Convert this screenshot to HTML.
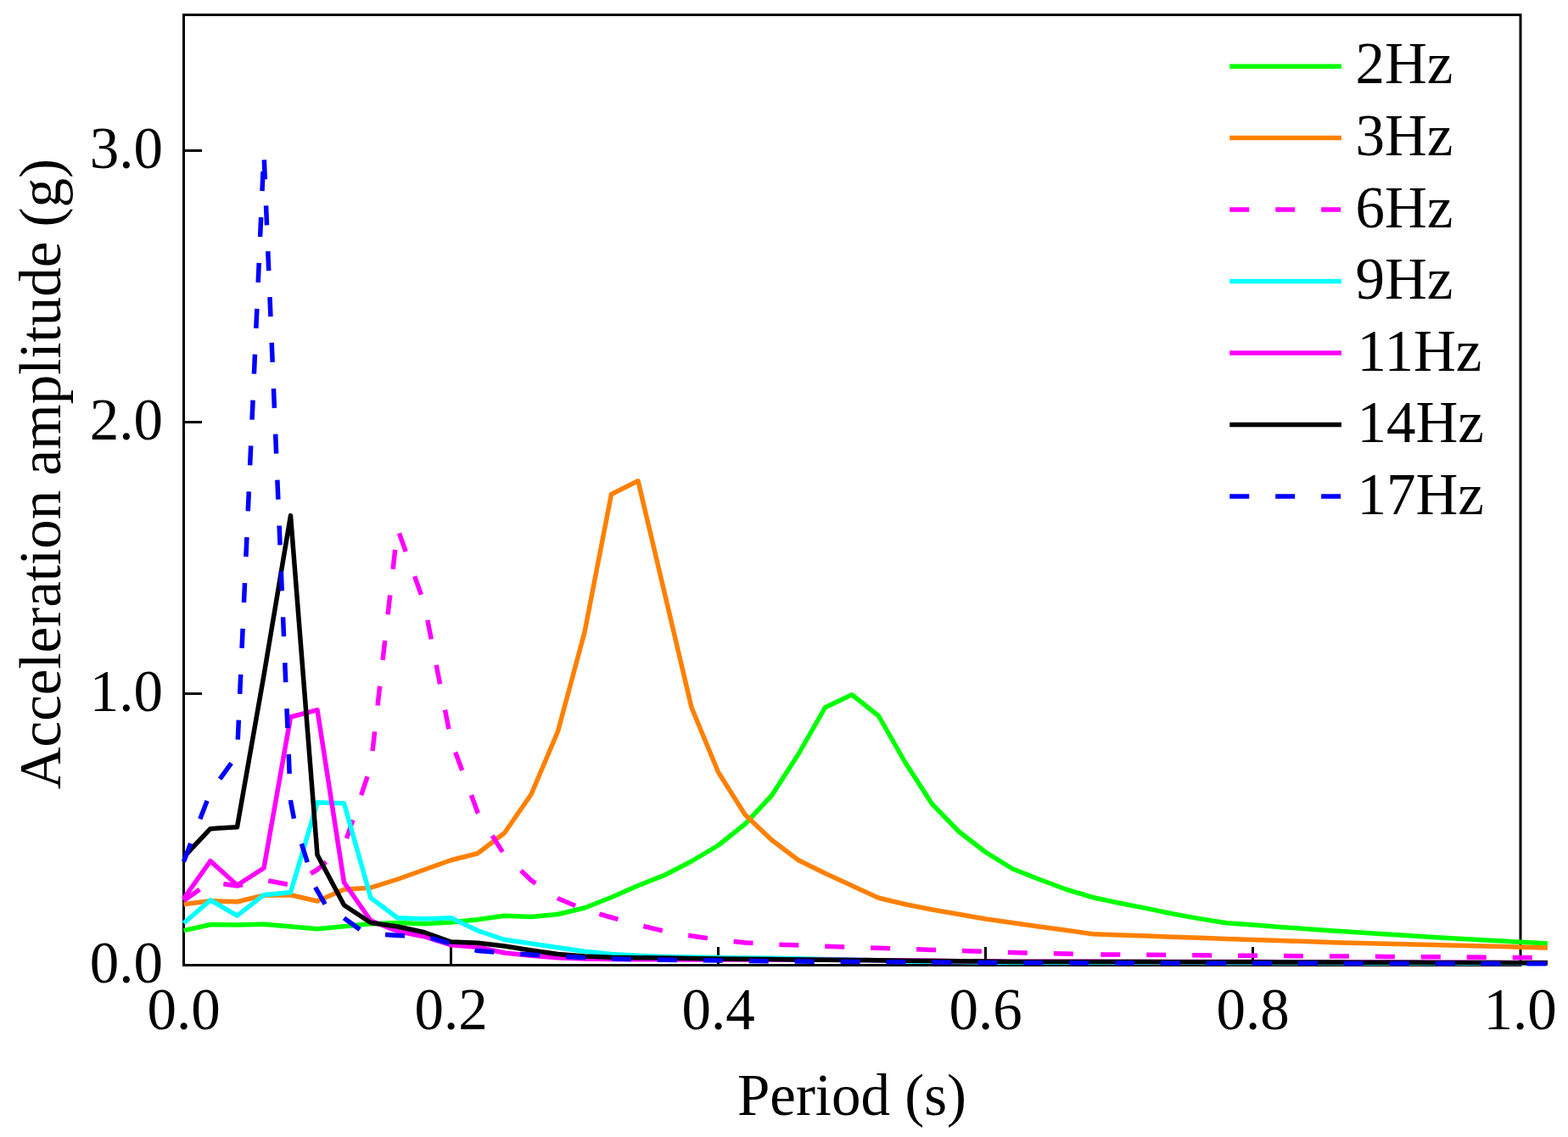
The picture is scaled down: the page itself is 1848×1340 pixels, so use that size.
<!DOCTYPE html>
<html lang="en">
<head>
<meta charset="utf-8">
<title>Acceleration amplitude vs Period</title>
<style>
html,body{margin:0;padding:0;background:#fff;}
body{width:1848px;height:1340px;overflow:hidden;}
svg{display:block;}
text{font-family:"Liberation Serif","Times New Roman",serif;font-size:69px;fill:#000;}
.ln{fill:none;stroke-linejoin:round;stroke-linecap:butt;}
</style>
</head>
<body>
<svg width="1848" height="1340" viewBox="0 0 1848 1340">
<rect x="0" y="0" width="1848" height="1340" fill="#ffffff"/>

<rect x="216.50" y="17.50" width="1575.50" height="1120.00" fill="none" stroke="#000" stroke-width="3"/>
<line x1="216.50" y1="817.50" x2="238.00" y2="817.50" stroke="#000" stroke-width="3"/>
<line x1="216.50" y1="497.50" x2="238.00" y2="497.50" stroke="#000" stroke-width="3"/>
<line x1="216.50" y1="177.50" x2="238.00" y2="177.50" stroke="#000" stroke-width="3"/>
<line x1="531.50" y1="1137.50" x2="531.50" y2="1116.00" stroke="#000" stroke-width="3"/>
<line x1="846.50" y1="1137.50" x2="846.50" y2="1116.00" stroke="#000" stroke-width="3"/>
<line x1="1161.50" y1="1137.50" x2="1161.50" y2="1116.00" stroke="#000" stroke-width="3"/>
<line x1="1476.50" y1="1137.50" x2="1476.50" y2="1116.00" stroke="#000" stroke-width="3"/>
<path class="ln" d="M216.50 1096.60 L248.00 1089.70 L279.50 1090.00 L311.00 1089.20 L342.50 1092.00 L374.00 1094.70 L405.50 1091.70 L437.00 1088.70 L468.50 1087.50 L500.00 1088.75 L531.50 1087.00 L563.00 1083.75 L594.50 1079.25 L626.00 1080.50 L657.50 1077.50 L689.00 1070.00 L720.50 1057.50 L752.00 1043.75 L783.50 1031.25 L815.00 1015.00 L846.50 996.25 L878.00 971.25 L909.50 937.50 L941.00 888.75 L972.50 833.75 L1004.00 818.75 L1035.50 843.75 L1067.00 898.75 L1098.50 947.50 L1130.00 980.00 L1161.50 1004.25 L1193.00 1023.75 L1224.50 1036.25 L1256.00 1048.00 L1287.50 1057.50 L1319.00 1064.25 L1350.50 1070.40 L1382.00 1077.00 L1413.50 1082.60 L1445.00 1087.70 L1476.50 1090.05 L1508.00 1092.40 L1539.50 1094.66 L1571.00 1096.92 L1580.45 1097.60 L1602.50 1099.00 L1634.00 1101.00 L1665.50 1103.00 L1697.00 1105.00 L1728.50 1106.75 L1760.00 1108.50 L1791.50 1110.25 L1823.90 1112.00" stroke="#00ff00" stroke-width="5.5"/>
<path class="ln" d="M216.50 1065.80 L248.00 1061.70 L279.50 1062.80 L311.00 1055.30 L342.50 1054.70 L374.00 1062.00 L405.50 1048.30 L437.00 1046.20 L468.50 1036.25 L500.00 1025.00 L531.50 1013.75 L563.00 1005.75 L594.50 981.75 L626.00 936.25 L657.50 862.00 L689.00 745.00 L720.50 582.50 L752.00 566.75 L783.50 700.00 L815.00 833.75 L846.50 910.00 L878.00 960.00 L909.50 990.00 L941.00 1013.75 L972.50 1029.25 L1004.00 1043.75 L1035.50 1058.25 L1067.00 1065.75 L1098.50 1072.00 L1130.00 1077.50 L1161.50 1083.00 L1193.00 1087.50 L1224.50 1092.00 L1256.00 1096.25 L1287.50 1100.75 L1319.00 1102.00 L1350.50 1103.10 L1382.00 1104.20 L1413.50 1105.30 L1445.00 1106.40 L1476.50 1107.50 L1508.00 1108.56 L1539.50 1109.62 L1571.00 1110.68 L1580.45 1111.00 L1602.50 1111.54 L1634.00 1112.30 L1665.50 1113.07 L1697.00 1113.84 L1728.50 1114.60 L1760.00 1115.37 L1791.50 1116.13 L1823.90 1116.90" stroke="#ff8000" stroke-width="5.5"/>
<path class="ln" d="M216.50 1061.50 L235.36 1048.33 M263.35 1041.69 L279.50 1044.00 L286.03 1042.55 M316.26 1038.00 L338.85 1042.30 M366.13 1029.50 L374.00 1025.00 L384.41 1015.74 M408.49 988.13 L415.83 966.33 M425.71 937.02 L433.05 915.23 M439.07 885.06 L441.64 862.20 M445.09 831.47 L447.65 808.61 M451.10 777.87 L453.67 755.02 M457.12 724.28 L459.69 701.42 M463.14 670.69 L465.70 647.83 M470.47 628.40 L478.21 650.06 M488.62 679.18 L496.37 700.84 M503.86 730.77 L508.26 753.34 M514.18 783.70 L518.58 806.28 M524.50 836.63 L528.91 859.21 M536.67 886.46 L544.67 908.03 M555.41 937.03 L563.00 957.50 L563.62 958.49 M580.11 984.66 L592.37 1004.12 M614.00 1026.08 L626.00 1037.50 L631.33 1041.10 M656.97 1058.40 L657.50 1058.75 L678.12 1067.42 M706.39 1077.11 L720.50 1081.25 L728.49 1083.47 M758.35 1091.51 L780.73 1096.84 M811.16 1102.33 L815.00 1103.00 L833.91 1105.70 M864.60 1109.51 L878.00 1111.00 L887.50 1111.60 M918.38 1113.31 L941.00 1114.10 L941.37 1114.11 M972.28 1115.19 L972.50 1115.20 L995.26 1115.99 M1026.18 1117.04 L1035.50 1117.34 L1049.16 1117.80 M1080.08 1118.82 L1098.50 1119.43 L1103.06 1119.58 M1133.98 1120.61 L1145.75 1121.00 L1156.96 1121.37 M1187.88 1122.41 L1193.00 1122.58 L1205.60 1123.00 L1210.87 1123.12 M1241.79 1123.80 L1256.00 1124.11 L1264.78 1124.30 M1297.31 1124.88 L1319.00 1125.05 L1320.31 1125.06 M1351.24 1125.31 L1374.24 1125.49 M1405.16 1125.73 L1413.50 1125.80 L1428.16 1125.92 M1459.09 1126.16 L1476.50 1126.30 L1482.09 1126.34 M1513.02 1126.55 L1536.02 1126.71 M1566.95 1126.93 L1571.00 1126.95 L1589.95 1127.09 M1620.88 1127.30 L1634.00 1127.39 L1643.88 1127.46 M1674.81 1127.67 L1697.00 1127.83 L1697.81 1127.83 M1728.74 1128.05 L1751.74 1128.21 M1782.66 1128.42 L1791.50 1128.48 L1805.66 1128.58" stroke="#ff00ff" stroke-width="5.5"/>
<path class="ln" d="M216.50 1088.00 L248.00 1060.80 L279.50 1079.10 L311.00 1054.70 L342.50 1051.70 L374.00 945.80 L405.50 946.70 L437.00 1058.30 L468.50 1081.70 L500.00 1083.00 L531.50 1081.75 L563.00 1096.75 L594.50 1107.50 L626.00 1112.00 L657.50 1116.75 L689.00 1121.25 L720.50 1124.50 L752.00 1126.30 L783.50 1127.40 L815.00 1127.95 L846.50 1128.50 L878.00 1128.90 L909.50 1129.30 L941.00 1129.87 L972.50 1130.43 L1004.00 1131.00 L1035.50 1132.00 L1067.00 1133.00 L1098.50 1133.30 L1130.00 1133.60 L1161.50 1133.90 L1193.00 1134.20 L1224.50 1134.26 L1256.00 1134.31 L1287.50 1134.37 L1319.00 1134.42 L1350.50 1134.47 L1382.00 1134.53 L1413.50 1134.59 L1445.00 1134.64 L1476.50 1134.69 L1508.00 1134.75 L1539.50 1134.81 L1571.00 1134.86 L1602.50 1134.91 L1634.00 1134.97 L1665.50 1135.03 L1697.00 1135.08 L1728.50 1135.13 L1760.00 1135.19 L1791.50 1135.24 L1823.90 1135.30" stroke="#00ffff" stroke-width="5.5"/>
<path class="ln" d="M216.50 1059.00 L248.00 1014.70 L279.50 1043.30 L311.00 1023.00 L342.50 845.00 L374.00 836.70 L405.50 1040.00 L437.00 1085.00 L468.50 1097.50 L500.00 1103.75 L531.50 1113.75 L563.00 1116.25 L594.50 1123.00 L626.00 1126.25 L657.50 1128.75 L689.00 1130.00 L720.50 1130.40 L752.00 1130.80 L783.50 1130.86 L815.00 1130.91 L846.50 1130.97 L878.00 1131.03 L909.50 1131.09 L941.00 1131.14 L972.50 1131.20 L1004.00 1131.49 L1035.50 1131.77 L1067.00 1132.06 L1098.50 1132.34 L1130.00 1132.63 L1161.50 1132.91 L1193.00 1133.20 L1224.50 1133.24 L1256.00 1133.29 L1287.50 1133.33 L1319.00 1133.38 L1350.50 1133.42 L1382.00 1133.47 L1413.50 1133.51 L1445.00 1133.56 L1476.50 1133.60 L1508.00 1133.69 L1539.50 1133.78 L1571.00 1133.87 L1602.50 1133.96 L1634.00 1134.05 L1665.50 1134.15 L1697.00 1134.24 L1728.50 1134.33 L1760.00 1134.42 L1791.50 1134.51 L1823.90 1134.60" stroke="#ff00ff" stroke-width="5.5"/>
<path class="ln" d="M216.50 1010.00 L248.00 976.70 L279.50 974.70 L311.00 795.80 L342.50 607.65 L374.00 1007.50 L405.50 1066.70 L437.00 1087.50 L468.50 1092.00 L500.00 1098.75 L531.50 1110.00 L563.00 1111.25 L594.50 1115.00 L626.00 1120.00 L657.50 1124.50 L689.00 1127.00 L720.50 1128.25 L752.00 1128.69 L783.50 1129.12 L815.00 1129.56 L846.50 1130.00 L878.00 1130.30 L909.50 1130.60 L941.00 1130.90 L972.50 1131.20 L1004.00 1131.50 L1035.50 1131.82 L1067.00 1132.13 L1098.50 1132.45 L1130.00 1132.77 L1161.50 1133.08 L1193.00 1133.40 L1224.50 1133.44 L1256.00 1133.49 L1287.50 1133.53 L1319.00 1133.58 L1350.50 1133.62 L1382.00 1133.67 L1413.50 1133.71 L1445.00 1133.76 L1476.50 1133.80 L1508.00 1133.89 L1539.50 1133.98 L1571.00 1134.07 L1602.50 1134.16 L1634.00 1134.25 L1665.50 1134.35 L1697.00 1134.44 L1728.50 1134.53 L1760.00 1134.62 L1791.50 1134.71 L1823.90 1134.80" stroke="#000000" stroke-width="5.5"/>
<path class="ln" d="M216.50 1015.50 L224.74 994.03 M235.82 965.15 L244.06 943.68 M259.12 918.08 L272.63 899.47 M280.31 871.69 L281.33 848.71 M282.70 817.81 L283.72 794.84 M285.09 763.94 L286.11 740.96 M287.49 710.06 L288.51 687.08 M289.88 656.18 L290.90 633.20 M292.27 602.31 L293.29 579.33 M294.66 548.43 L295.68 525.45 M297.05 494.55 L298.07 471.57 M299.44 440.67 L300.46 417.70 M301.83 386.80 L302.85 363.82 M304.22 332.92 L305.24 309.94 M306.62 279.04 L307.64 256.07 M309.01 225.17 L310.03 202.19 M311.34 188.41 L312.28 211.39 M313.56 242.30 L314.51 265.28 M315.78 296.18 L316.73 319.16 M318.00 350.06 L318.95 373.05 M320.23 403.95 L321.17 426.93 M322.45 457.83 L323.40 480.81 M324.67 511.72 L325.62 534.70 M326.89 565.60 L327.84 588.58 M329.12 619.49 L330.06 642.47 M331.34 673.37 L332.29 696.35 M333.56 727.25 L334.51 750.23 M335.78 781.14 L336.73 804.12 M338.01 835.02 L338.95 858.00 M340.23 888.91 L341.18 911.89 M342.45 942.79 L342.50 944.00 M342.50 944.00 L346.47 964.71 M355.39 994.31 L362.25 1016.27 M371.60 1045.73 L374.00 1049.88 L383.12 1065.64 M405.46 1081.97 L405.50 1082.00 L424.13 1095.41 M454.04 1101.58 L468.50 1102.50 L477.01 1102.64 M507.60 1105.29 L529.62 1111.93 M559.58 1119.63 L563.00 1120.50 L582.41 1122.04 M613.26 1124.19 L626.00 1125.00 L636.22 1125.65 M667.09 1127.55 L689.00 1128.80 L690.05 1128.84 M720.96 1130.01 L743.95 1130.48 M774.88 1131.12 L783.50 1131.30 L797.88 1131.46 M828.80 1131.80 L846.50 1132.00 L851.80 1132.07 M882.73 1132.46 L905.73 1132.75 M936.66 1132.98 L941.00 1133.01 L959.66 1133.14 M990.59 1133.34 L1004.00 1133.43 L1013.59 1133.50 M1044.51 1133.70 L1067.00 1133.86 L1067.51 1133.86 M1098.44 1134.07 L1098.50 1134.07 L1121.44 1134.22 M1152.37 1134.43 L1161.50 1134.49 L1175.37 1134.58 M1206.30 1134.73 L1224.50 1134.78 L1229.30 1134.79 M1260.23 1134.87 L1283.23 1134.93 M1314.16 1135.01 L1319.00 1135.02 L1337.16 1135.07 M1368.09 1135.12 L1382.00 1135.14 L1391.09 1135.15 M1422.02 1135.19 L1445.00 1135.22 L1445.02 1135.22 M1475.95 1135.26 L1476.50 1135.26 L1498.95 1135.29 M1529.88 1135.33 L1539.50 1135.34 L1552.88 1135.36 M1583.81 1135.40 L1602.50 1135.42 L1606.81 1135.43 M1637.74 1135.46 L1660.74 1135.49 M1691.67 1135.53 L1697.00 1135.54 L1714.67 1135.56 M1745.60 1135.60 L1760.00 1135.62 L1768.60 1135.63 M1799.53 1135.67 L1822.53 1135.70" stroke="#0000ff" stroke-width="5.5"/>
<text x="192.00" y="1157.70" text-anchor="end">0.0</text>
<text x="192.00" y="837.70" text-anchor="end">1.0</text>
<text x="192.00" y="517.70" text-anchor="end">2.0</text>
<text x="192.00" y="197.70" text-anchor="end">3.0</text>
<text x="216.50" y="1213.10" text-anchor="middle">0.0</text>
<text x="531.50" y="1213.10" text-anchor="middle">0.2</text>
<text x="846.50" y="1213.10" text-anchor="middle">0.4</text>
<text x="1161.50" y="1213.10" text-anchor="middle">0.6</text>
<text x="1476.50" y="1213.10" text-anchor="middle">0.8</text>
<text x="1791.50" y="1213.10" text-anchor="middle">1.0</text>
<text x="1004.00" y="1314.10" text-anchor="middle">Period (s)</text>
<text transform="translate(70.50 558.60) rotate(-90)" text-anchor="middle">Acceleration amplitude (g)</text>
<line x1="1449.27" y1="78.15" x2="1581.00" y2="78.15" stroke="#00ff00" stroke-width="5.5"/>
<text x="1597.50" y="98.20">2Hz</text>
<line x1="1449.27" y1="162.62" x2="1581.00" y2="162.62" stroke="#ff8000" stroke-width="5.5"/>
<text x="1597.50" y="182.85">3Hz</text>
<line x1="1449.27" y1="247.09" x2="1581.00" y2="247.09" stroke="#ff00ff" stroke-width="5.5" stroke-dasharray="23 30.93"/>
<text x="1597.50" y="267.50">6Hz</text>
<line x1="1449.27" y1="331.56" x2="1581.00" y2="331.56" stroke="#00ffff" stroke-width="5.5"/>
<text x="1597.50" y="352.15">9Hz</text>
<line x1="1449.27" y1="416.03" x2="1581.00" y2="416.03" stroke="#ff00ff" stroke-width="5.5"/>
<text x="1599.50" y="436.80">11Hz</text>
<line x1="1449.27" y1="500.50" x2="1581.00" y2="500.50" stroke="#000000" stroke-width="5.5"/>
<text x="1599.50" y="521.45">14Hz</text>
<line x1="1449.27" y1="584.97" x2="1581.00" y2="584.97" stroke="#0000ff" stroke-width="5.5" stroke-dasharray="23 30.93"/>
<text x="1599.50" y="606.10">17Hz</text>
</svg>
</body>
</html>
